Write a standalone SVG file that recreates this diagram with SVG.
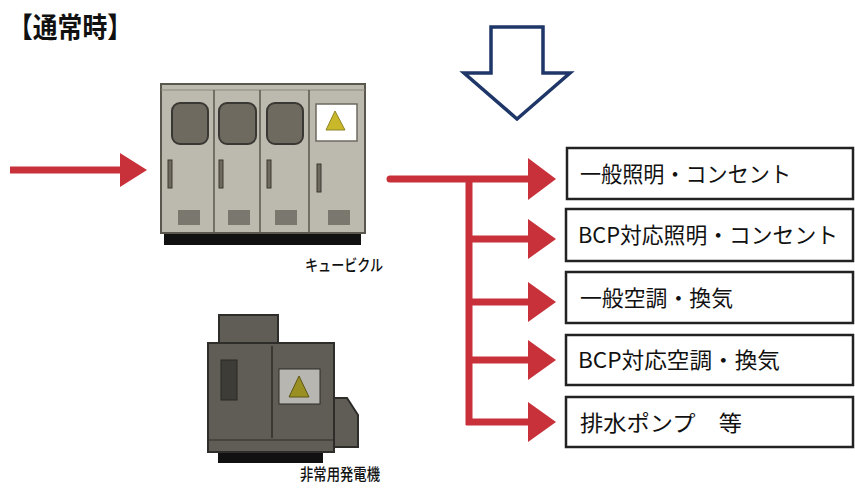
<svg xmlns="http://www.w3.org/2000/svg" width="855" height="490" viewBox="0 0 855 490">
  <style>
    .jp { font-family: "Noto Sans CJK JP", "Noto Sans", sans-serif; fill: #111; }
    .box { fill: #fff; stroke: #222; stroke-width: 2.5; }
    .label { font-size: 22px; }
    .red { stroke: #c8303a; stroke-width: 7; fill: none; }
    .redhead { fill: #c8303a; }
    .cab { fill: #bcb9af; stroke: #5a574f; stroke-width: 2; }
    .win { fill: #6e6a60; stroke: #3a3832; stroke-width: 2; }
    .handle { fill: #6e6a60; stroke: #3a3832; stroke-width: 1; }
    .vent { fill: #7a776e; }
    .gen { fill: #5f5d55; stroke: #2e2d29; stroke-width: 2; }
  </style>

  <!-- title -->
  <text class="jp" x="8" y="38" font-size="28" font-weight="bold" textLength="124" lengthAdjust="spacingAndGlyphs">【通常時】</text>

  <!-- hollow down arrow -->
  <g id="downArrow">
    <path d="M491,27 L543,27 L543,73 L570,73 L517,119 L464,73 L491,73 Z" fill="#fff" stroke="#1f3668" stroke-width="3.5" stroke-linejoin="miter"/>
  </g>

  <!-- cubicle -->
  <g id="cubicle">
    <rect x="164" y="232" width="197" height="13" fill="#111"/>
    <rect class="cab" x="161" y="84" width="204" height="149"/>
    <line x1="161" y1="90" x2="365" y2="90" stroke="#8d8a80" stroke-width="1"/>
    <line x1="214" y1="90" x2="214" y2="232" stroke="#5a574f" stroke-width="1.5"/>
    <line x1="260" y1="90" x2="260" y2="232" stroke="#5a574f" stroke-width="1.5"/>
    <line x1="309" y1="90" x2="309" y2="232" stroke="#5a574f" stroke-width="1.5"/>
    <rect class="win" x="172" y="103" width="36" height="41" rx="8"/>
    <rect class="win" x="219" y="103" width="37" height="41" rx="8"/>
    <rect class="win" x="267" y="103" width="36" height="41" rx="8"/>
    <rect x="316" y="104" width="41" height="37" fill="#fff" stroke="#6e6a60" stroke-width="1.5"/>
    <path d="M335,111 L345,130 L326,130 Z" fill="#c9b92a" stroke="#8f8424" stroke-width="1"/>
    <rect class="handle" x="168" y="160" width="4" height="28"/>
    <rect class="handle" x="219" y="160" width="4" height="28"/>
    <rect class="handle" x="267" y="160" width="4" height="28"/>
    <rect class="handle" x="317" y="164" width="4" height="28"/>
    <rect class="vent" x="178" y="210" width="22" height="15"/>
    <rect class="vent" x="228" y="210" width="22" height="15"/>
    <rect class="vent" x="275" y="210" width="22" height="15"/>
    <rect class="vent" x="328" y="210" width="22" height="15"/>
    <text class="jp" x="305" y="271" font-size="16" font-weight="500" textLength="78" lengthAdjust="spacingAndGlyphs">キュービクル</text>
  </g>

  <!-- emergency generator -->
  <g id="generator">
    <rect x="218" y="451" width="105" height="12" fill="#111"/>
    <path class="gen" d="M334,398 L347,398 L358,415 L358,447 L334,447 Z"/>
    <rect class="gen" x="219" y="315" width="59" height="28"/>
    <rect class="gen" x="208" y="343" width="126" height="109"/>
    <line x1="272" y1="346" x2="272" y2="438" stroke="#2e2d29" stroke-width="1.5"/>
    <line x1="208" y1="440" x2="334" y2="440" stroke="#2e2d29" stroke-width="1"/>
    <rect x="221" y="360" width="16" height="40" fill="#3d3c37" stroke="#2a2925" stroke-width="1"/>
    <rect x="279" y="369" width="41" height="35" fill="#b8b6b0" stroke="#2e2d29" stroke-width="1"/>
    <path d="M299,376 L309,397 L289,397 Z" fill="#9a8f22" stroke="#5d5615" stroke-width="1"/>
    <text class="jp" x="300" y="480" font-size="16" font-weight="500" textLength="80" lengthAdjust="spacingAndGlyphs">非常用発電機</text>
  </g>

  <!-- load boxes -->
  <g id="load1">
    <rect class="box" x="567" y="148" width="286" height="51"/>
    <text class="jp label" x="580" y="182" textLength="211" lengthAdjust="spacingAndGlyphs">一般照明・コンセント</text>
  </g>
  <g id="load2">
    <rect class="box" x="566" y="209" width="287" height="52"/>
    <text class="jp label" x="578" y="243" textLength="260" lengthAdjust="spacingAndGlyphs">BCP対応照明・コンセント</text>
  </g>
  <g id="load3">
    <rect class="box" x="566" y="272" width="287" height="51"/>
    <text class="jp label" x="580" y="306" textLength="153" lengthAdjust="spacingAndGlyphs">一般空調・換気</text>
  </g>
  <g id="load4">
    <rect class="box" x="566" y="335" width="287" height="50"/>
    <text class="jp label" x="578" y="368" textLength="202" lengthAdjust="spacingAndGlyphs">BCP対応空調・換気</text>
  </g>
  <g id="load5">
    <rect class="box" x="566" y="397" width="287" height="50"/>
    <text class="jp label" x="580" y="431" textLength="162" lengthAdjust="spacingAndGlyphs">排水ポンプ　等</text>
  </g>

  <!-- power flow connectors -->
  <g id="connectors">
    <line class="red" x1="10" y1="170" x2="122" y2="170"/>
    <path class="redhead" d="M120,153 L147,170 L120,187 Z"/>

    <line class="red" x1="390" y1="179" x2="530" y2="179" stroke-linecap="round"/>
    <path class="redhead" d="M528,158 L556,179 L528,200 Z"/>
    <line class="red" x1="469" y1="179" x2="469" y2="425"/>
    <line class="red" x1="469" y1="239" x2="530" y2="239"/>
    <path class="redhead" d="M528,219 L556,239 L528,259 Z"/>
    <line class="red" x1="469" y1="302" x2="530" y2="302"/>
    <path class="redhead" d="M528,282 L556,302 L528,322 Z"/>
    <line class="red" x1="469" y1="360" x2="530" y2="360"/>
    <path class="redhead" d="M528,340 L556,360 L528,380 Z"/>
    <line class="red" x1="466" y1="422" x2="530" y2="422"/>
    <path class="redhead" d="M528,402 L556,422 L528,442 Z"/>
  </g>
</svg>
